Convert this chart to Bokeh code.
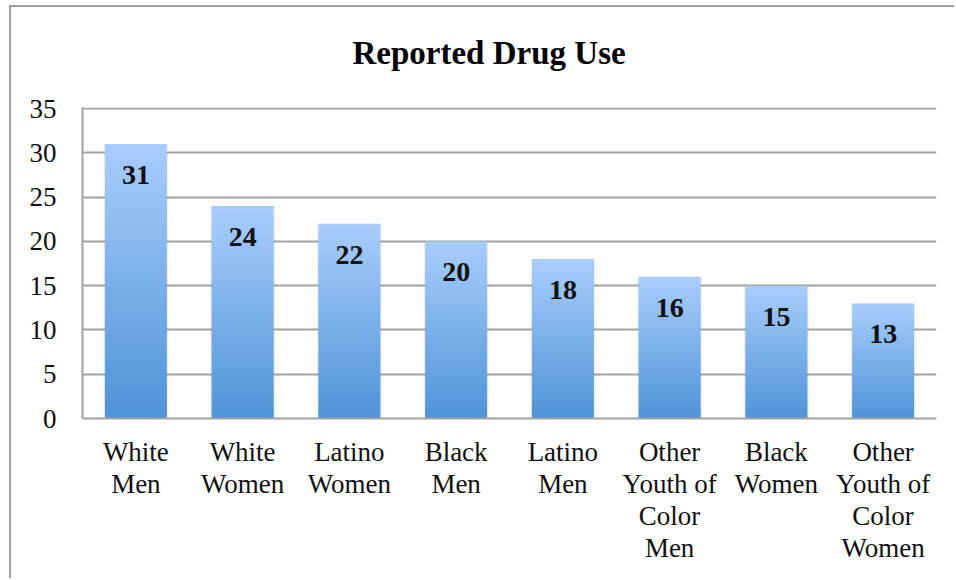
from bokeh.plotting import figure
from bokeh.models import ColumnDataSource, FactorRange, Range1d, FixedTicker, Title
from bokeh.embed import file_html
from bokeh.resources import INLINE
from bokeh.core.properties import value

categories = ["White\nMen", "White\nWomen", "Latino\nWomen", "Black\nMen", "Latino\nMen",
              "Other\nYouth of\nColor\nMen", "Black\nWomen", "Other\nYouth of\nColor\nWomen"]
values = [31, 24, 22, 20, 18, 16, 15, 13]
y_ticks = [0, 5, 10, 15, 20, 25, 30, 35]
title_text = "Reported Drug Use"

TOP = (170, 206, 253)
BOTTOM = (79, 148, 216)
N = 60
BAR_W = 0.58
FONT = "Liberation Serif"

p = figure(width=945, height=573, x_range=FactorRange(*categories, range_padding=0),
           y_range=Range1d(0, 35.12), output_backend="svg", toolbar_location=None,
           min_border_left=71, min_border_right=20, min_border_top=100, min_border_bottom=162)
p.margin = (5, 0, 0, 9)
p.styles = {"border-left": "2px solid #a0a0a0", "border-top": "2px solid #a0a0a0"}

# soft shadow behind the bars
p.vbar(x=categories, top=values, width=BAR_W + 0.025, fill_color="#000000", fill_alpha=0.06, line_color=None)

# gradient bars, each made of thin slices
xs, bots, tops, cols = [], [], [], []
for c, v in zip(categories, values):
    for k in range(N):
        f = (k + 0.5) / N
        r = int(BOTTOM[0] + (TOP[0] - BOTTOM[0]) * f)
        g = int(BOTTOM[1] + (TOP[1] - BOTTOM[1]) * f)
        b = int(BOTTOM[2] + (TOP[2] - BOTTOM[2]) * f)
        xs.append(c)
        bots.append(v * k / N)
        tops.append(min(v, v * (k + 1.5) / N))
        cols.append("#%02x%02x%02x" % (r, g, b))
src = ColumnDataSource(dict(x=xs, bottom=bots, top=tops, color=cols))
p.vbar(x="x", bottom="bottom", top="top", width=BAR_W, fill_color="color", line_color=None, source=src)

lab = ColumnDataSource(dict(x=categories, y=values, t=[str(v) for v in values]))
p.text(x="x", y="y", text="t", source=lab, y_offset=31, text_align="center", text_baseline="middle",
       text_font=value(FONT), text_font_style="bold", text_font_size="28px", text_color="#111111")

# spacer between plot area and title (pushes the title up)
spacer = Title(text=" ", text_font=FONT, text_font_size="24px", standoff=4)
p.add_layout(spacer, "above")
title = Title(text=title_text, text_font=FONT, text_font_size="33px", text_font_style="bold",
              align="left", offset=270, standoff=10, text_color="#000000")
p.add_layout(title, "above")

p.outline_line_color = None
p.background_fill_color = "white"
p.border_fill_color = "white"

p.xgrid.grid_line_color = None
p.ygrid.grid_line_color = "#a3a3a3"
p.ygrid.grid_line_width = 2
p.ygrid.ticker = FixedTicker(ticks=y_ticks)

p.yaxis.ticker = FixedTicker(ticks=y_ticks)
p.yaxis.axis_line_color = "#a3a3a3"
p.yaxis.axis_line_width = 2
p.yaxis.major_tick_line_color = None
p.yaxis.minor_tick_line_color = None
p.yaxis.major_tick_out = 0
p.yaxis.major_label_standoff = 26
p.yaxis.major_label_text_font = FONT
p.yaxis.major_label_text_font_size = "27px"
p.yaxis.major_label_text_color = "#111111"

p.xaxis.axis_line_color = "#a3a3a3"
p.xaxis.axis_line_width = 2
p.xaxis.major_tick_line_color = None
p.xaxis.major_tick_out = 0
p.xaxis.major_label_standoff = 18
p.xaxis.major_label_text_font = FONT
p.xaxis.major_label_text_font_size = "27px"
p.xaxis.major_label_text_color = "#111111"
p.xaxis.major_label_text_line_height = 1.067

open("out.html", "w").write(file_html(p, INLINE))
